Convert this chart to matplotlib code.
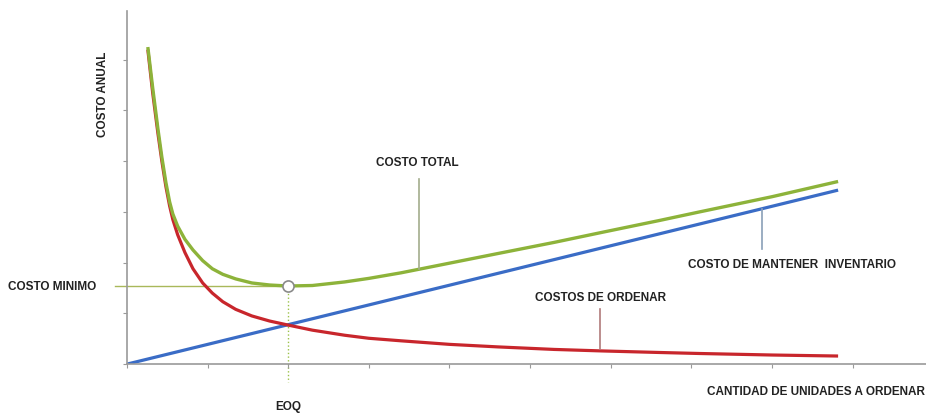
import matplotlib.pyplot as plt

plt.rcParams['font.family'] = ['Liberation Sans Narrow', 'Liberation Sans', 'DejaVu Sans']

# values (x and y in tick units)
q_vals = [0.26, 0.32, 0.385, 0.434, 0.484, 0.53, 0.57, 0.63, 0.72, 0.82, 0.94,
          1.06, 1.19, 1.35, 1.55, 1.77, 2.0, 2.3, 2.7, 3.0, 3.4, 4.0, 4.6, 5.3,
          5.9, 6.6, 7.1, 8.0, 8.82]
ordering_cost = [6.2, 5.35, 4.55, 4.0, 3.5, 3.12, 2.85, 2.55, 2.2, 1.88, 1.6,
                 1.4, 1.23, 1.08, 0.95, 0.85, 0.77, 0.67, 0.57, 0.51, 0.46, 0.39,
                 0.34, 0.29, 0.26, 0.23, 0.21, 0.18, 0.16]
total_cost = [6.25, 5.45, 4.64, 4.08, 3.58, 3.2, 2.96, 2.72, 2.46, 2.25, 2.04,
              1.88, 1.77, 1.68, 1.6, 1.56, 1.54, 1.55, 1.62, 1.69, 1.8, 1.99,
              2.18, 2.4, 2.6, 2.83, 3.0, 3.3, 3.6]
holding_q = [0.0, 8.82]
holding_cost = [0.0, 3.43]
eoq_x = 2.0
min_cost = 1.54

green = '#8db33a'
red = '#c8262c'
blue = '#3a6cc6'
gray = '#9a9a9a'

fig = plt.figure(figsize=(9.26, 4.14), dpi=100)
ax = fig.add_axes([0.137, 0.118, 0.863, 0.853])

ax.plot(holding_q, holding_cost, color=blue, lw=2.3, solid_capstyle='butt')
ax.plot(q_vals, ordering_cost, color=red, lw=2.3, solid_capstyle='butt',
        solid_joinstyle='round')
ax.plot(q_vals, total_cost, color=green, lw=2.4, solid_capstyle='butt',
        solid_joinstyle='round')

# minimum cost guide lines
ax.plot([-0.15, eoq_x], [min_cost, min_cost], color='#a9b85a', lw=1.0, clip_on=False, zorder=1)
ax.plot([eoq_x, eoq_x], [min_cost, -0.36], color='#9cc24a', lw=1.0, ls=':', clip_on=False, zorder=1)
ax.plot([eoq_x], [min_cost], marker='o', ms=8, mfc='white', mec='#8a8a8a', mew=1.2, zorder=5)

ax.set_xlim(0, 9.91)
ax.set_ylim(0, 6.96)
ax.set_xticks(range(10))
ax.set_yticks(range(7))
ax.set_xticklabels([])
ax.set_yticklabels([])
ax.tick_params(length=3, width=0.8, color=gray)
for s in ['top', 'right']:
    ax.spines[s].set_visible(False)
for s in ['left', 'bottom']:
    ax.spines[s].set_color(gray)
    ax.spines[s].set_linewidth(1.2)

tkw = dict(fontsize=8.5, fontweight='bold', color='#222222', clip_on=False)

ax.text(3.6, 3.98, 'COSTO TOTAL', ha='center', va='center', **tkw)
ax.plot([3.62, 3.62], [3.65, 1.88], color='#a3ad8c', lw=1.2)

ax.text(5.88, 1.32, 'COSTOS DE ORDENAR', ha='center', va='center', **tkw)
ax.plot([5.87, 5.87], [1.08, 0.3], color='#b07a7a', lw=1.2)

ax.text(8.25, 1.97, 'COSTO DE MANTENER  INVENTARIO', ha='center', va='center', **tkw)
ax.plot([7.88, 7.88], [3.06, 2.27], color='#8aa0b8', lw=1.2)

ax.text(7.2, -0.53, 'CANTIDAD DE UNIDADES A ORDENAR', ha='left', va='center', **tkw)
ax.text(eoq_x, -0.83, 'EOQ', ha='center', va='center', **tkw)
ax.text(-1.48, min_cost, 'COSTO MINIMO', ha='left', va='center', **tkw)
ax.text(-0.3, 5.33, 'COSTO ANUAL', ha='center', va='center', rotation=90, **tkw)

fig.savefig('out.png', dpi=100)
